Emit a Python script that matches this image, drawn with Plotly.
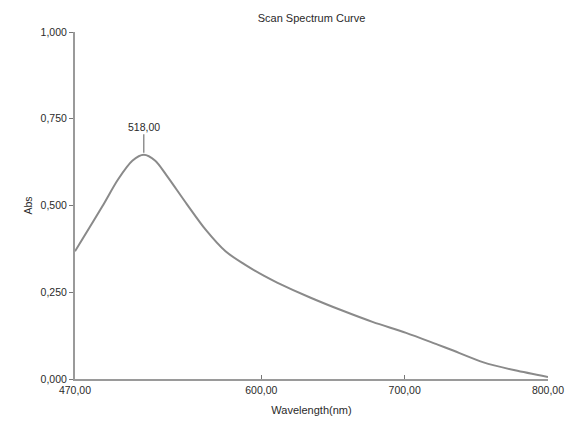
import plotly.graph_objects as go

wavelength = [470, 489, 500, 510, 518, 526, 534, 548, 561, 575, 588, 602, 611,
              634, 656, 678, 701, 723, 732, 755, 777, 800]
absorbance = [0.368, 0.497, 0.575, 0.629, 0.646, 0.629, 0.586, 0.504, 0.431,
              0.368, 0.331, 0.297, 0.278, 0.235, 0.198, 0.164, 0.133, 0.099,
              0.085, 0.048, 0.025, 0.006]
x_ticks = [470, 600, 700, 800]
y_ticks = [0, 0.25, 0.5, 0.75, 1.0]
title = "Scan Spectrum Curve"
x_title = "Wavelength(nm)"
y_title = "Abs"

peak_i = max(range(len(absorbance)), key=lambda i: absorbance[i])
peak_x = wavelength[peak_i]
peak_y = absorbance[peak_i]

FAM = "Liberation Sans, Arial, sans-serif"
font = dict(family=FAM, size=10.5, color="#2a2a2a")

fig = go.Figure()
fig.add_trace(go.Scatter(
    x=wavelength, y=absorbance, mode="lines",
    line=dict(color="#8a8a8a", width=2, shape="spline", smoothing=0.8),
    hoverinfo="skip", showlegend=False))

fig.add_annotation(
    x=peak_x, y=peak_y, xref="x", yref="y",
    text=f"{peak_x:.2f}".replace(".", ","),
    showarrow=True, arrowhead=0, arrowwidth=1.2, arrowcolor="#777",
    ax=0, ay=-28, standoff=2, font=font)

fig.update_layout(
    width=576, height=427,
    margin=dict(l=75, r=22, t=32, b=42),
    paper_bgcolor="white", plot_bgcolor="white",
    separators=",.",
    font=font,
    hovermode=False,
    title=dict(text=title, x=0.5, xref="paper", xanchor="center",
               y=0.958, yanchor="middle",
               font=dict(family=FAM, size=11, color="#2a2a2a")),
    xaxis=dict(range=[470, 800], tickvals=x_ticks, tickformat=".2f",
               showgrid=False, zeroline=False, showline=True,
               linecolor="#9a9a9a", linewidth=2, ticks="inside", ticklen=4,
               tickcolor="#777", tickfont=font,
               title=dict(text=x_title, font=dict(family=FAM, size=11, color="#2a2a2a"),
                          standoff=12)),
    yaxis=dict(range=[0, 1.0], tickvals=y_ticks, tickformat=".3f",
               showgrid=False, zeroline=False, showline=True,
               linecolor="#9a9a9a", linewidth=2, ticks="outside", ticklen=4,
               tickcolor="#777", tickfont=font,
               title=dict(text=y_title, font=font, standoff=6)),
)

fig.write_html("out.html", config={"displayModeBar": False},
               post_script="document.body.style.margin='0';")
